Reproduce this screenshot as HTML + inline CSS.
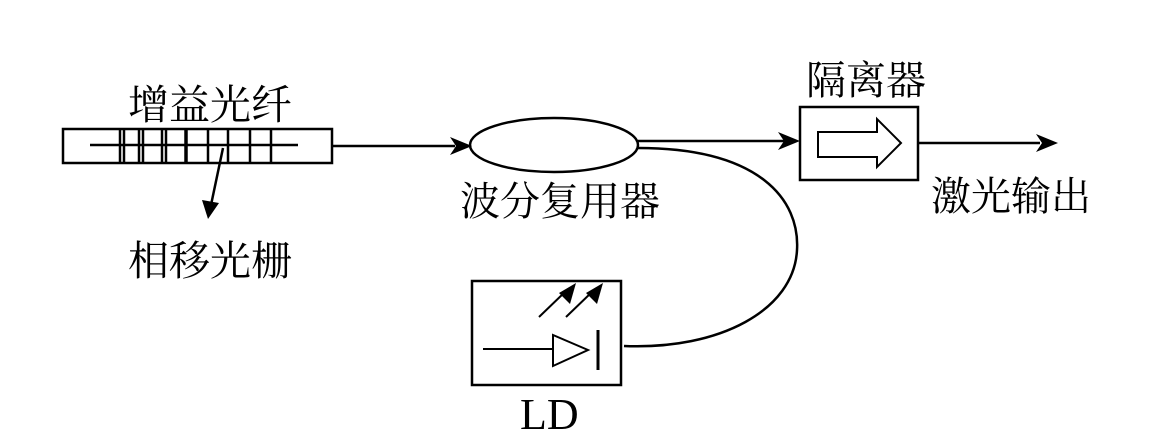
<!DOCTYPE html>
<html><head><meta charset="utf-8"><style>
body{margin:0;background:#fff;width:1153px;height:440px;overflow:hidden}
svg text{font-family:"Liberation Serif","Noto Serif CJK SC",serif;fill:#000}
</style></head><body>
<svg width="1153" height="440" viewBox="0 0 1153 440" xmlns="http://www.w3.org/2000/svg">
<g stroke="#000" fill="none" stroke-width="2.5">
<rect x="63" y="129" width="269" height="34"/>
<line x1="90" y1="145" x2="298" y2="145"/>
<g stroke-width="2.5">
<line x1="120" y1="130" x2="120" y2="162"/><line x1="124" y1="130" x2="124" y2="162"/>
<line x1="139" y1="130" x2="139" y2="162"/><line x1="143" y1="130" x2="143" y2="162"/>
<line x1="162" y1="130" x2="162" y2="162"/><line x1="166" y1="130" x2="166" y2="162"/>
<line x1="186" y1="130" x2="186" y2="162" stroke-width="3.5"/>
<line x1="208" y1="130" x2="208" y2="162"/><line x1="228" y1="130" x2="228" y2="162"/>
<line x1="250" y1="130" x2="250" y2="162"/><line x1="271" y1="130" x2="271" y2="162"/>
</g>
<line x1="223" y1="148" x2="211" y2="205"/>
<line x1="332" y1="146" x2="455" y2="146"/>
<ellipse cx="554" cy="145" rx="84" ry="27"/>
<line x1="638" y1="141" x2="785" y2="141"/>
<path d="M638,148 C760,148 800,200 797,250 C794,310 720,350 624,346"/>
<rect x="800" y="107" width="118" height="73"/>
<path d="M818,132 H877 V119 L901,143 L877,167 V157 H818 Z" stroke-width="2"/>
<line x1="918" y1="143" x2="1040" y2="143"/>
<rect x="472" y="281" width="149" height="104"/>
<line x1="483" y1="349" x2="553" y2="349" stroke-width="2"/>
<path d="M553,335 L553,366 L588,350 Z" stroke-width="2"/>
<line x1="598" y1="330" x2="598" y2="370" stroke-width="3"/>
<line x1="539" y1="317" x2="566" y2="291" stroke-width="2"/>
<line x1="566" y1="317" x2="593" y2="291" stroke-width="2"/>
</g>
<g fill="#000">
<polygon points="208,219 202,200 219,203"/>
<polygon points="472,146 450,137 456,146 450,155"/>
<polygon points="800,141 778,132 784,141 778,150"/>
<polygon points="1058,143 1036,134 1042,143 1036,152"/>
<polygon points="576,283 570,304 559,293"/>
<polygon points="603,283 597,304 586,293"/>
</g>
<text x="128" y="119" font-size="41">增益光纤</text>
<text x="128" y="275" font-size="41">相移光栅</text>
<text x="460" y="215" font-size="40">波分复用器</text>
<text x="806" y="94" font-size="40">隔离器</text>
<text x="931" y="210" font-size="40">激光输出</text>
<text x="520" y="429" font-size="44">LD</text>
</svg>
</body></html>
